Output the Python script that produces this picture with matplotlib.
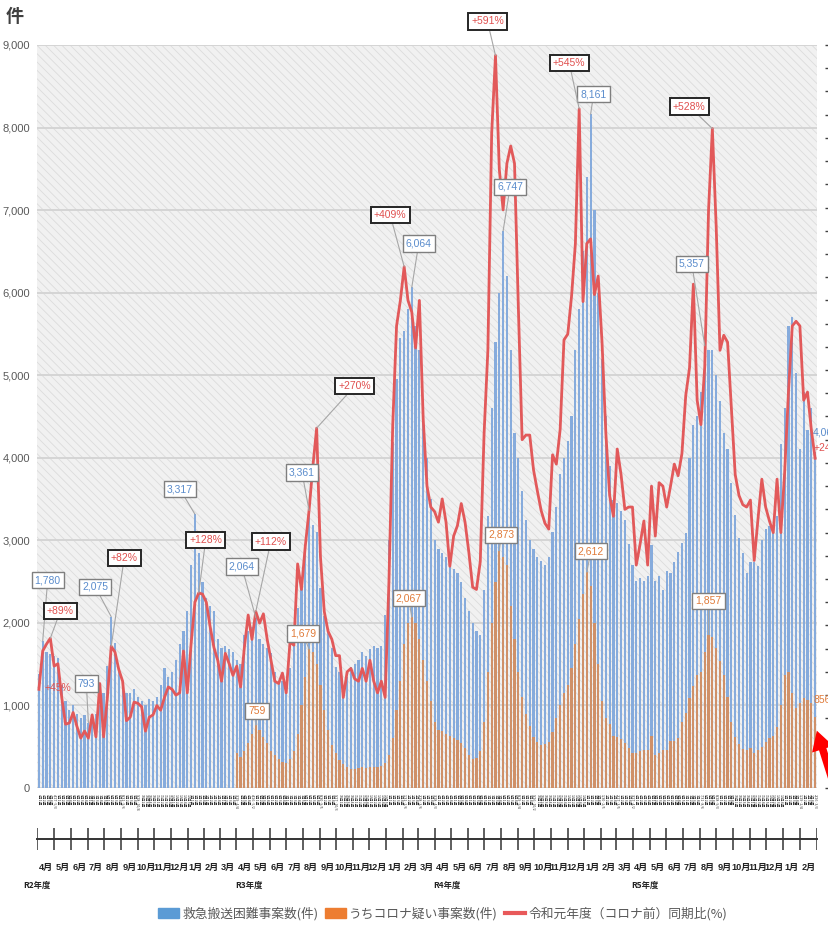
import datetime as dt
import numpy as np
import matplotlib
matplotlib.use('Agg')
import matplotlib.pyplot as plt
from matplotlib import font_manager
from matplotlib.patches import Patch, Rectangle, FancyArrowPatch
from matplotlib.lines import Line2D

plt.rcParams['font.family'] = ['Noto Sans CJK JP', 'DejaVu Sans']
plt.rcParams['hatch.linewidth'] = 0.6

_names = {f.name for f in font_manager.fontManager.ttflist}
NUM_FONT = 'Liberation Sans Narrow' if 'Liberation Sans Narrow' in _names else 'Liberation Sans'
JP_FONT = 'Noto Sans CJK JP'

# 週の起点（R2年度 第1週の月曜）
week_start = dt.date(2020, 3, 30)

# 救急搬送困難事案数(件)
blue_r2 = [1380, 1780, 1650, 1620, 1600, 1580, 1250, 1050, 950, 1000, 900, 850, 880, 793,
           880, 900, 1000, 1150, 1480, 2075, 1760, 1400, 1300, 1150, 1150, 1200, 1100, 1050,
           1000, 1080, 1050, 1100, 1250, 1450, 1350, 1400, 1550, 1750, 1900, 2150, 2700, 3317,
           2850, 2500, 2300, 2200, 2150, 1800, 1700, 1720, 1680, 1650]
blue_r3 = [1550, 1500, 1850, 1900, 1950, 2064, 1800, 1750, 1700, 1630, 1400, 1300, 1300, 1230,
           1450, 1900, 2180, 2560, 2860, 3361, 3190, 3100, 2420, 2080, 1900, 1700, 1460, 1400,
           1170, 1350, 1460, 1500, 1550, 1650, 1600, 1680, 1720, 1700, 1720, 2100, 3000, 4190,
           4950, 5450, 5530, 5800, 6064, 5600, 5300, 4600, 4000, 3500]
blue_r4 = [3000, 2900, 2850, 2800, 2700, 2650, 2600, 2500, 2300, 2150, 2000, 1900, 1850, 2400,
           3300, 4600, 5400, 6000, 6747, 6200, 5300, 4300, 4000, 3600, 3250, 3000, 2900, 2800,
           2750, 2700, 2800, 3100, 3400, 3800, 4000, 4200, 4500, 5300, 5800, 6500, 7400, 8161,
           7000, 6000, 5200, 4500, 3900, 3490, 3450, 3350, 3250, 2950]
blue_r5 = [2700, 2510, 2540, 2510, 2570, 2940, 2510, 2570, 2400, 2630, 2600, 2740, 2860, 2970,
           3090, 4000, 4400, 4500, 4800, 5357, 5300, 5300, 5000, 4690, 4300, 4110, 3700, 3310,
           3030, 2850, 2600, 2740, 2740, 2690, 3000, 3140, 3170, 3100, 3300, 4170, 4600, 5600,
           5710, 5030, 4110, 4800, 4340, 4600, 4066]

# うちコロナ疑い事案数(件)  R3年度から
orange_r3 = [420, 380, 450, 550, 650, 759, 700, 620, 550, 450, 400, 350, 320, 300, 350, 450,
             650, 1000, 1350, 1679, 1650, 1500, 1250, 950, 700, 520, 420, 340, 290, 250, 230,
             230, 240, 250, 240, 250, 260, 260, 270, 300, 400, 600, 950, 1300, 1750, 2000, 2067,
             2000, 1800, 1550, 1300, 1050]
orange_r4 = [800, 700, 690, 660, 630, 600, 580, 540, 480, 400, 350, 360, 450, 800, 1400, 2000,
             2500, 2873, 2800, 2700, 2200, 1800, 1400, 1100, 900, 750, 620, 560, 520, 530, 560,
             680, 850, 1000, 1150, 1250, 1450, 1750, 2050, 2350, 2612, 2450, 2000, 1500, 1050,
             850, 770, 630, 620, 590, 540, 490]
orange_r5 = [430, 430, 445, 460, 460, 630, 400, 430, 460, 460, 570, 570, 600, 800, 910, 1090,
             1230, 1370, 1400, 1650, 1857, 1830, 1690, 1540, 1370, 1100, 800, 620, 530, 470, 460,
             480, 420, 460, 500, 560, 600, 630, 740, 1000, 1370, 1400, 1150, 970, 1030, 1090,
             1060, 1030, 856]

# 令和元年度（コロナ前）同期比 増加率(%)
ratio_r2 = [45, 78, 84, 89, 65, 67, 38, 15, 16, 25, 13, 3, 9, 3, 23, 4, 50, 4, 38, 82, 77, 62,
            52, 18, 21, 34, 33, 30, 9, 21, 23, 31, 27, 38, 47, 45, 40, 42, 78, 42, 84, 120, 128,
            127, 120, 99, 81, 70, 52, 76, 67, 57]
ratio_r3 = [65, 47, 81, 109, 88, 112, 102, 110, 88, 70, 52, 50, 59, 42, 86, 83, 153, 131, 168,
            199, 237, 270, 159, 112, 95, 88, 74, 74, 38, 60, 63, 54, 52, 63, 52, 70, 52, 42, 52,
            38, 138, 273, 358, 380, 409, 380, 370, 339, 380, 278, 220, 202]
ratio_r4 = [198, 189, 209, 189, 151, 177, 186, 205, 189, 163, 133, 131, 155, 265, 337, 524, 591,
            493, 458, 498, 513, 498, 375, 260, 264, 264, 234, 216, 199, 188, 183, 247, 239, 269,
            346, 351, 384, 429, 545, 379, 429, 433, 385, 401, 344, 266, 212, 194, 252, 230, 200,
            202]
ratio_r5 = [202, 152, 170, 190, 152, 220, 177, 223, 220, 202, 220, 239, 229, 248, 298, 322, 394,
            294, 273, 323, 458, 528, 444, 337, 350, 344, 287, 230, 212, 204, 202, 208, 156, 192,
            226, 202, 190, 180, 226, 180, 232, 301, 358, 362, 358, 294, 301, 269, 244]

fy_names = ['R2年度', 'R3年度', 'R4年度', 'R5年度']
legend_labels = ['救急搬送困難事案数(件)', 'うちコロナ疑い事案数(件)', '令和元年度（コロナ前）同期比(%)']

# 月をまたぐ週のうち期間表記のラベルにする週
long_weeks = [4, 22, 26, 52, 56, 74, 78, 96, 100, 104, 126, 130, 148, 152, 156, 174, 178, 200, 204]

blue = np.array(blue_r2 + blue_r3 + blue_r4 + blue_r5)
orange = np.array(orange_r3 + orange_r4 + orange_r5)
ratio = np.array(ratio_r2 + ratio_r3 + ratio_r4 + ratio_r5)
n = len(blue)
x = np.arange(n)
x_orange = x[n - len(orange):]
fy_start = np.cumsum([0, len(blue_r2), len(blue_r3), len(blue_r4)])

C_BLUE = '#86abdc'
C_ORANGE = '#cf9068'
C_RED = '#e2595a'
C_TXT = '#595959'

W, H = 829, 926
fig = plt.figure(figsize=(W / 100, H / 100), dpi=100)
ax = fig.add_axes([37 / W, 1 - 788 / H, 780 / W, 743 / H])

ax.set_xlim(-0.5, n - 0.5)
ax.set_ylim(0, 9000)
ax.patch.set_facecolor('#f1f1f1')
ax.add_patch(Rectangle((0, 0), 1, 1, transform=ax.transAxes, facecolor='none',
                       edgecolor='#dcdcdc', hatch='\\\\\\\\', lw=0, zorder=0))
ax.set_axisbelow(True)
ax.yaxis.grid(True, color='#d3d3d3', lw=1.3)
for s in ax.spines.values():
    s.set_visible(False)
ax.set_xticks([])
ax.set_yticks(np.arange(0, 9001, 1000))
ax.set_yticklabels([f'{v:,}' for v in range(0, 9001, 1000)], family=NUM_FONT,
                   fontsize=8, color=C_TXT)
ax.tick_params(axis='y', length=0, pad=5)

ax.bar(x, blue, width=0.58, color=C_BLUE, zorder=2)
ax.bar(x_orange, orange, width=0.58, color=C_ORANGE, zorder=3)

ax2 = ax.twinx()
ax2.set_ylim(-40, 600)
ax2.set_xlim(-0.5, n - 0.5)
ax2.plot(x, ratio, color=C_RED, lw=2.0, zorder=4, solid_joinstyle='round')
for s in ax2.spines.values():
    s.set_visible(False)
ax2.spines['right'].set_position(('outward', 6))
ax2.set_yticks(np.arange(-40, 601, 20))
ax2.tick_params(axis='y', length=3, width=1, color='#404040', labelright=False)

# 件数・比率のラベル（吹き出し）: (週, 横ずれpx, 縦ずれpx)
blue_labels = [(1, 5, -61), (13, -2, -39), (19, -16, -30), (41, -15, -25), (57, -14, -51),
               (71, -7, -38), (98, 7, -44), (122, 7, -44), (145, 3, -20), (175, -13, -82)]
orange_labels = [(57, 1, -14), (71, -6, -16), (98, -3, -19), (121, 2, -16), (144, 4, -21),
                 (176, 0, -34)]
red_labels = [(3, 10, -27), (19, 13, -88), (42, 7, -53), (57, 15, -70), (73, 38, -42),
              (96, -14, -52), (120, -8, -34), (142, -10, -46), (177, -23, -22)]

leader = dict(arrowstyle='-', color='#a6a6a6', lw=0.8, shrinkA=0, shrinkB=0)
LBL_SIZE = 7.5


def box(ec, lw):
    return dict(boxstyle='square,pad=0.3', fc='white', ec=ec, lw=lw)


for i, dx, dy in blue_labels:
    ax2.annotate(f'{blue[i]:,}', xy=(i, blue[i]), xycoords=ax.transData,
                 xytext=(dx, -dy), textcoords='offset pixels', ha='center', va='center',
                 family=NUM_FONT, fontsize=LBL_SIZE, color='#5a8ccc', bbox=box('#7f7f7f', 1.0),
                 arrowprops=leader, zorder=6)
for i, dx, dy in orange_labels:
    v = orange[i - x_orange[0]]
    ax2.annotate(f'{v:,}', xy=(i, v), xycoords=ax.transData,
                 xytext=(dx, -dy), textcoords='offset pixels', ha='center', va='center',
                 family=NUM_FONT, fontsize=LBL_SIZE, color='#e07b39', bbox=box('#7f7f7f', 1.0),
                 arrowprops=leader, zorder=6)
for i, dx, dy in red_labels:
    ax2.annotate(f'+{ratio[i]}%', xy=(i, ratio[i]),
                 xytext=(dx, -dy), textcoords='offset pixels', ha='center', va='center',
                 family=NUM_FONT, fontsize=LBL_SIZE, color='#e0504f', bbox=box('#262626', 1.4),
                 arrowprops=leader, zorder=6)

# 先頭週と最終週の値
ax2.annotate(f'+{ratio[0]}%', xy=(0, ratio[0]), xytext=(19, 1), textcoords='offset pixels',
             ha='center', va='center', family=NUM_FONT, fontsize=LBL_SIZE, color='#e0504f',
             zorder=1)
last = n - 1
ax2.annotate(f'{blue[last]:,}', xy=(last, blue[last]), xycoords=ax.transData,
             xytext=(-2, 20), textcoords='offset pixels', ha='left', va='center',
             family=NUM_FONT, fontsize=LBL_SIZE, color='#5a8ccc', annotation_clip=False)
ax2.annotate(f'+{ratio[last]}%', xy=(last, ratio[last]), xytext=(-2, 10),
             textcoords='offset pixels', ha='left', va='center',
             family=NUM_FONT, fontsize=LBL_SIZE, color='#e0504f', annotation_clip=False)
ax2.annotate(f'{orange[-1]:,}', xy=(last, orange[-1]), xycoords=ax.transData,
             xytext=(-2, 17), textcoords='offset pixels', ha='left', va='center',
             family=NUM_FONT, fontsize=LBL_SIZE, color='#e07b39', annotation_clip=False)

# 週ラベル（縦書き）
month_count = {}
for i in range(n):
    d0 = week_start + dt.timedelta(days=7 * i)
    d1 = d0 + dt.timedelta(days=6)
    mid = d0 + dt.timedelta(days=3)
    key = (mid.year, mid.month)
    month_count[key] = month_count.get(key, 0) + 1
    if i in long_weeks:
        txt = f'{d0.month}/{d0.day}~{d1.month}/{d1.day}'
    else:
        txt = f'{mid.month}月{month_count[key]}週'
    ax.text(i, -6 / 743, txt, transform=ax.get_xaxis_transform(), rotation=270,
            ha='center', va='top', fontsize=2.6, color='#303030', family=JP_FONT,
            clip_on=False)

# 月の区切り軸
axm = fig.add_axes([37 / W, 1 - 850 / H, 780 / W, 22 / H])
axm.set_xlim(-0.5, n - 0.5)
axm.set_ylim(0, 1)
axm.axis('off')
bounds = [-0.5]
months = [4]
y, m = 2020, 5
while (y, m) <= (2024, 2):
    d = dt.date(y, m, 1)
    bounds.append((d - week_start).days / 7 - 0.5)
    months.append(m)
    m += 1
    if m > 12:
        y, m = y + 1, 1
bounds.append(n - 0.5)
axm.axhline(0.5, color='#333333', lw=1.4, clip_on=False)
axm.vlines(bounds, 0, 1, color='#333333', lw=1.1)
for k, mm in enumerate(months):
    c = (bounds[k] + bounds[k + 1]) / 2
    axm.text(c, -0.8, f'{mm}月', ha='center', va='center', fontsize=6.6,
             fontweight='bold', color='#222222', family=['Liberation Sans', JP_FONT],
             clip_on=False)
fy_pos = [-0.5, fy_start[1] + 3.3, fy_start[2] + 3.3, fy_start[3] + 3.3]
for p, name in zip(fy_pos, fy_names):
    axm.text(p, -1.6, name, ha='center', va='center', fontsize=6.0, style='italic',
             fontweight='bold', color='#222222', family=JP_FONT, clip_on=False)

fig.text(15 / W, 1 - 16 / H, '件', ha='center', va='center', fontsize=13,
         fontweight='bold', color='#404040', family=JP_FONT)

handles = [Patch(color='#5b9bd5'), Patch(color='#ed7d31'),
           Line2D([], [], color='#e8595a', lw=3)]
fig.legend(handles, legend_labels, loc='center', bbox_to_anchor=(443 / W, 1 - 914 / H),
           ncol=3, frameon=False, fontsize=9.2, handlelength=1.6, handleheight=0.8,
           handletextpad=0.3, columnspacing=0.5, labelcolor=C_TXT, borderaxespad=0)

# 最終週を指す矢印
fig.patches.append(FancyArrowPatch(
    (845 / W, 1 - 820 / H), (816 / W, 1 - 728 / H), transform=fig.transFigure,
    arrowstyle='simple,head_width=1.6,head_length=1.4,tail_width=0.55',
    mutation_scale=10, color='#ff0000', lw=0))

fig.savefig('out.png', dpi=100)
